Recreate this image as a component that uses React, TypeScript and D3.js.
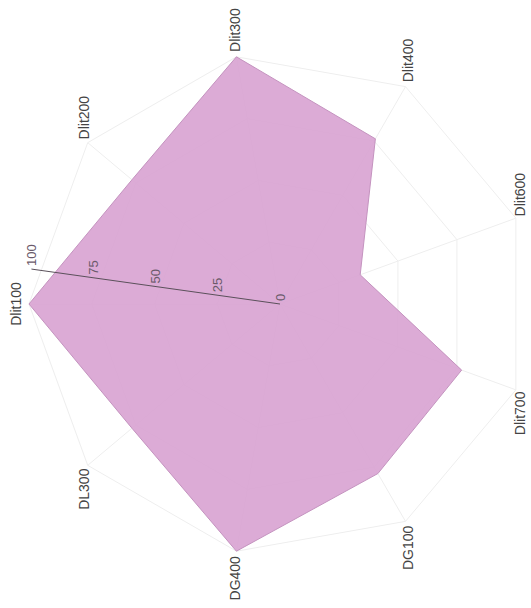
import React from 'react';
import * as d3 from 'd3';

const categories = ["Dlit100", "Dlit200", "Dlit300", "Dlit400", "Dlit600", "Dlit700", "DG100", "DG400", "DL300"];
const values = [100, 77, 100, 76, 34, 77, 78, 100, 77];
const ticks = [0, 25, 50, 75, 100];
const rings = [25, 50, 75, 100];

export default function App() {
  const W = 531, H = 608, cx = 280, cy = 304, R = 251;
  const n = categories.length;
  const r = d3.scaleLinear().domain([0, 100]).range([0, R]);
  const ang = d3.scaleLinear().domain([0, n]).range([0, 2 * Math.PI]);
  const radial = d3.lineRadial<number>()
    .angle((_, i) => ang(i))
    .radius(d => r(d))
    .curve(d3.curveLinearClosed);
  const ringPath = (v: number) => radial(categories.map(() => v)) || '';
  const axisA = 8 * Math.PI / 180;
  const font = '"Liberation Sans", Arial, sans-serif';

  return (
    <svg width={W} height={H} style={{ position: 'absolute', left: 0, top: 0, background: '#fff' }}>
      <g transform={`translate(${cx},${cy}) rotate(-90)`}>
        {rings.map(v => (
          <path key={v} d={ringPath(v)} fill="none" stroke="#eeeeee" strokeWidth={1} />
        ))}
        {categories.map((c, i) => (
          <line key={c} x1={0} y1={0} x2={r(100) * Math.sin(ang(i))} y2={-r(100) * Math.cos(ang(i))}
            stroke="#eeeeee" strokeWidth={1} />
        ))}
        <path d={radial(values) || ''} fill="rgb(216,162,210)" fillOpacity={0.9} stroke="#c493bf" strokeWidth={1} />
        <line x1={0} y1={0} x2={r(100) * Math.sin(axisA)} y2={-r(100) * Math.cos(axisA)} stroke="#5a505a" strokeWidth={1} />
        {ticks.map(t => {
          const px = r(t) * Math.sin(axisA), py = -r(t) * Math.cos(axisA);
          return (
            <text key={t} x={px + 3} y={py} dy="0.35em" textAnchor="start" fontFamily={font} fontSize={13} fill="#6a5a6a">{t}</text>
          );
        })}
        {categories.map((c, i) => {
          const a = ang(i);
          const s = Math.sin(a), co = Math.cos(a);
          const rr = co > 0.9 ? R + 8 : R + 5;
          const x = rr * s, y = -rr * co;
          const anchor = s > 0.1 ? 'start' : s < -0.1 ? 'end' : 'middle';
          const dy = co > 0.9 ? '0' : '0.35em';
          return (
            <text key={c} x={x} y={y} dy={dy} textAnchor={anchor} fontFamily={font} fontSize={14} fill="#444">{c}</text>
          );
        })}
      </g>
    </svg>
  );
}
